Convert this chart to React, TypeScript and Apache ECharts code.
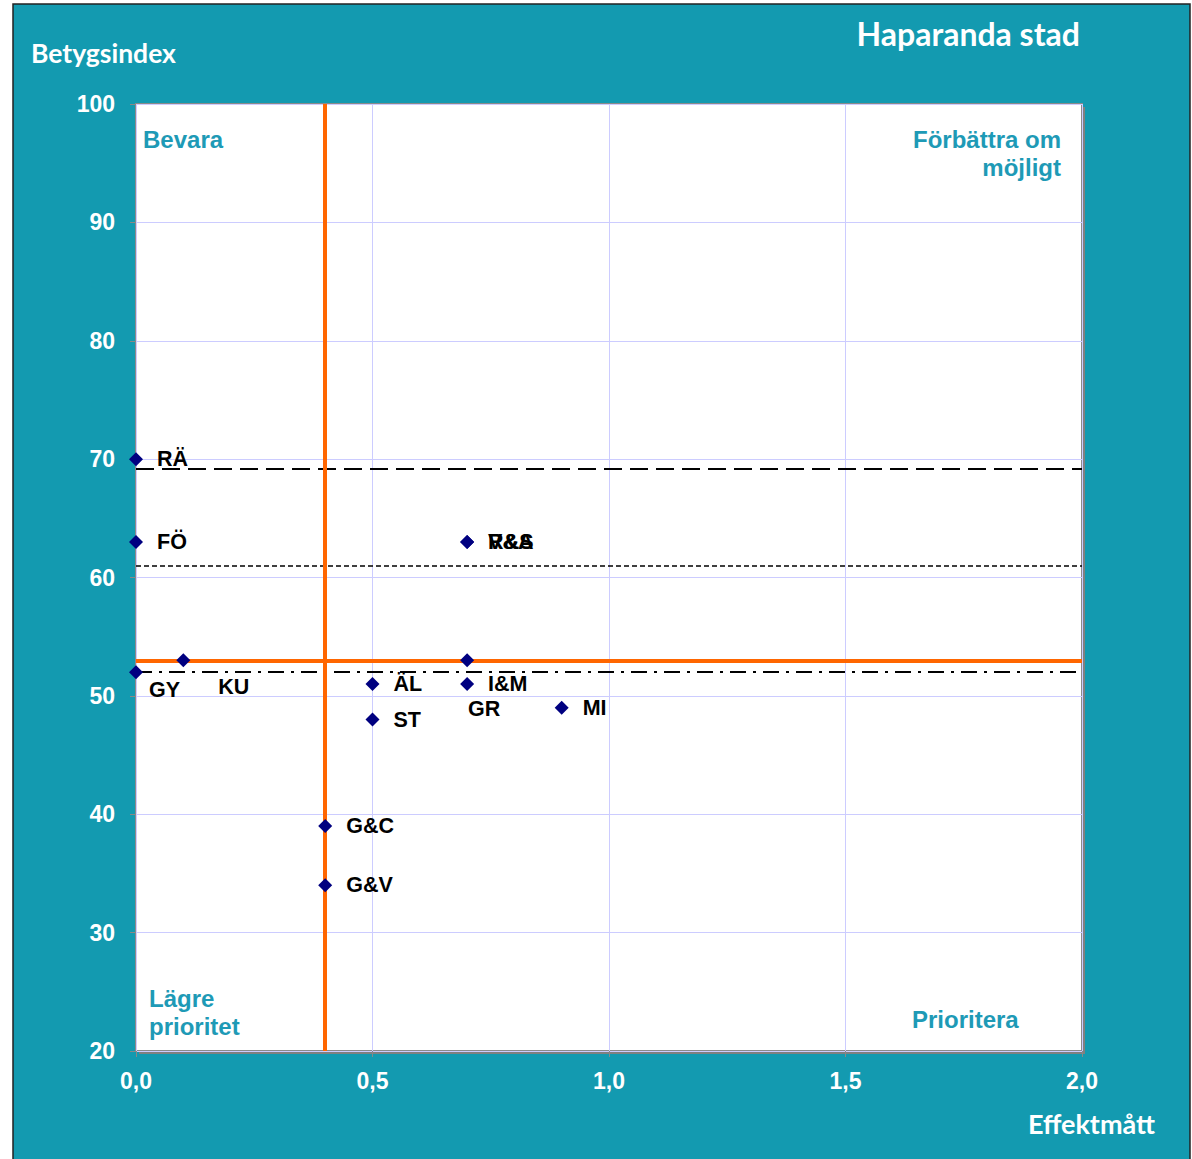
import React, { useEffect, useRef } from "react";
import * as echarts from "echarts";

const pointLabels = ["RÄ", "FÖ", "GY", "KU", "ÄL", "ST", "GR", "I&M", "MI", "V&A", "R&S", "G&C", "G&V"];
const effectValues = [0, 0, 0, 0.1, 0.5, 0.5, 0.7, 0.7, 0.9, 0.7, 0.7, 0.4, 0.4];
const indexValues = [70, 63, 52, 53, 51, 48, 53, 51, 49, 63, 63, 39, 34];

const meanIndex = 53;
const meanEffect = 0.4;
const longDashRef = 69.2;
const shortDashRef = 61;
const dashDotRef = 52;

const xTicks = [0, 0.5, 1.0, 1.5, 2.0];
const yTicks = [20, 30, 40, 50, 60, 70, 80, 90, 100];

const labelOffsets: Record<string, [number, number]> = {
  GY: [-8, 18],
  KU: [14, 27],
  GR: [-20, 49],
};

const TEAL = "#139AB0";
const QTEAL = "#1E9AB6";

export default function App() {
  const ref = useRef<HTMLDivElement>(null);
  useEffect(() => {
    document.body.style.margin = "0";
    const chart = echarts.init(ref.current!, null, { renderer: "svg" });
    const gl = 136, gt = 104, gw = 946, gh = 947;
    const data = pointLabels.map((name, i) => {
      const off = labelOffsets[name];
      return {
        name,
        value: [effectValues[i], indexValues[i]],
        label: off ? { offset: off } : undefined,
      };
    });
    const axisLabel = {
      color: "#fff",
      fontWeight: "bold" as const,
      fontSize: 23,
      fontFamily: "Liberation Sans, Arial, sans-serif",
    };
    const qFont = "bold 24px 'Liberation Sans', Arial, sans-serif";
    chart.setOption({
      animation: false,
      graphic: [
        {
          type: "rect",
          z: -20,
          shape: { x: 13, y: 4, width: 1177, height: 1170 },
          style: { fill: TEAL, stroke: "#222", lineWidth: 1.5 },
        },
        {
          type: "rect",
          z: -19,
          shape: { x: gl + 3, y: gt + 3, width: gw, height: gh },
          style: { fill: "#808080" },
        },
        {
          type: "text",
          x: 1080,
          y: 33,
          style: {
            text: "Haparanda stad",
            fill: "#fff",
            font: "bold 32px Lato, 'Open Sans', sans-serif",
            textAlign: "right",
            textVerticalAlign: "middle",
          },
        },
        {
          type: "text",
          x: 31,
          y: 53,
          style: {
            text: "Betygsindex",
            fill: "#fff",
            font: "bold 26.5px Lato, 'Open Sans', sans-serif",
            textAlign: "left",
            textVerticalAlign: "middle",
          },
        },
        {
          type: "text",
          x: 1155,
          y: 1123,
          style: {
            text: "Effektmått",
            fill: "#fff",
            font: "bold 27px Lato, 'Open Sans', sans-serif",
            textAlign: "right",
            textVerticalAlign: "middle",
          },
        },
        {
          type: "text",
          x: 143,
          y: 139,
          z: 10,
          style: { text: "Bevara", fill: QTEAL, font: qFont, textAlign: "left", textVerticalAlign: "middle" },
        },
        {
          type: "text",
          x: 1061,
          y: 153,
          z: 10,
          style: {
            text: "Förbättra om\nmöjligt",
            fill: QTEAL,
            font: qFont,
            textAlign: "right",
            textVerticalAlign: "middle",
            lineHeight: 28,
          },
        },
        {
          type: "text",
          x: 149,
          y: 1012,
          z: 10,
          style: {
            text: "Lägre\nprioritet",
            fill: QTEAL,
            font: qFont,
            textAlign: "left",
            textVerticalAlign: "middle",
            lineHeight: 28,
          },
        },
        {
          type: "text",
          x: 912,
          y: 1019,
          z: 10,
          style: { text: "Prioritera", fill: QTEAL, font: qFont, textAlign: "left", textVerticalAlign: "middle" },
        },
      ],
      grid: {
        left: gl,
        top: gt,
        width: gw,
        height: gh,
        show: true,
        backgroundColor: "#fff",
        borderColor: "#8a8a8a",
        borderWidth: 2,
      },
      xAxis: {
        type: "value",
        min: xTicks[0],
        max: xTicks[xTicks.length - 1],
        interval: 0.5,
        axisLine: { show: false },
        axisTick: { show: true, length: 6, lineStyle: { color: "#888" } },
        splitLine: { show: true, lineStyle: { color: "#ccccff", width: 1 } },
        axisLabel: {
          ...axisLabel,
          margin: 18,
          formatter: (v: number) => v.toFixed(1).replace(".", ","),
        },
      },
      yAxis: {
        type: "value",
        min: yTicks[0],
        max: yTicks[yTicks.length - 1],
        interval: 10,
        axisLine: { show: false },
        axisTick: { show: true, length: 6, lineStyle: { color: "#888" } },
        splitLine: { show: true, lineStyle: { color: "#ccccff", width: 1 } },
        axisLabel: { ...axisLabel, margin: 21 },
      },
      series: [
        {
          type: "scatter",
          symbol: "diamond",
          symbolSize: 14,
          itemStyle: { color: "#000080", opacity: 1 },
          z: 5,
          label: {
            show: true,
            position: "right",
            distance: 14,
            formatter: "{b}",
            color: "#000",
            fontWeight: "bold",
            fontSize: 21.5,
            fontFamily: "Liberation Sans, Arial, sans-serif",
          },
          data,
          markLine: {
            silent: true,
            symbol: "none",
            label: { show: false },
            data: [
              { yAxis: longDashRef, lineStyle: { color: "#000", width: 2, type: [18, 8], opacity: 1 } },
              { yAxis: shortDashRef, lineStyle: { color: "#000", width: 1.5, type: [5, 3], opacity: 1 } },
              { yAxis: dashDotRef, lineStyle: { color: "#000", width: 2, type: [16, 7, 3, 7], opacity: 1 } },
              { yAxis: meanIndex, lineStyle: { color: "#FF6600", width: 4, type: "solid", opacity: 1 } },
              { xAxis: meanEffect, lineStyle: { color: "#FF6600", width: 4, type: "solid", opacity: 1 } },
            ],
          },
        },
      ],
    });
    return () => chart.dispose();
  }, []);
  return <div ref={ref} style={{ width: 1192, height: 1159 }} />;
}
